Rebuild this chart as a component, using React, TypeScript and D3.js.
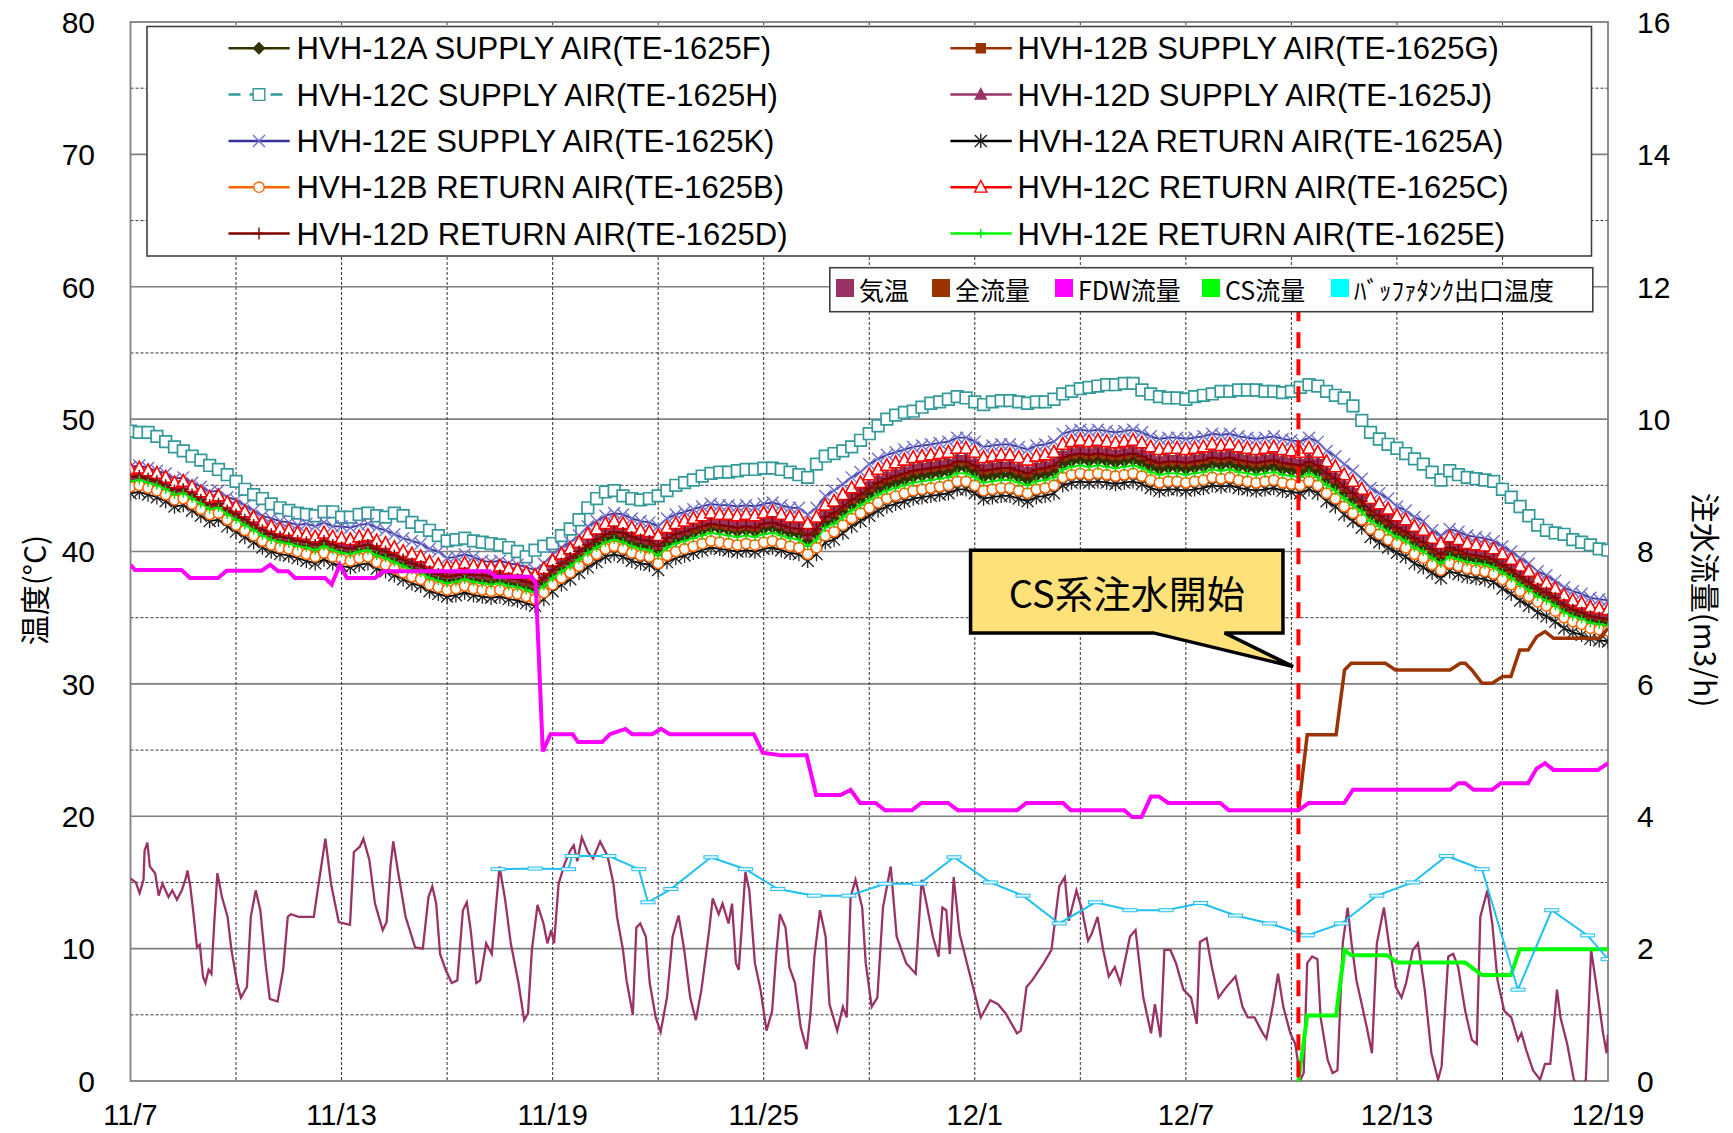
import * as d3 from "d3";

// x = days since 11/7; HVH temperatures sampled every 6 h
const sampleStep = 0.25;

const dateTickDays = [0, 6, 12, 18, 24, 30, 36, 42];
const dateTickLabels = ["11/7", "11/13", "11/19", "11/25", "12/1", "12/7", "12/13", "12/19"];
const tempTicks = [0, 10, 20, 30, 40, 50, 60, 70, 80];
const flowTicks = [0, 2, 4, 6, 8, 10, 12, 14, 16];

const hvh12aSupply = [
  45.5, 45.6, 45.4, 45.2, 44.9, 44.5, 44.6, 44.2, 43.8, 43.4, 43.5, 43.0, 42.6, 42.2, 41.8, 41.4,
  41.1, 40.9, 40.8, 40.6, 40.5, 40.3, 40.6, 40.3, 40.2, 40.1, 40.3, 40.4, 40.0, 39.8, 39.5, 39.2,
  38.9, 38.7, 38.3, 38.1, 37.9, 38.0, 38.2, 38.0, 37.9, 37.8, 37.9, 37.7, 37.6, 37.4, 37.2, 37.7,
  38.3, 38.8, 39.2, 39.7, 40.2, 40.6, 41.0, 41.2, 41.0, 40.7, 40.5, 40.4, 40.0, 40.6, 40.9, 41.1,
  41.4, 41.6, 41.8, 41.7, 41.6, 41.5, 41.6, 41.5, 41.7, 41.8, 41.6, 41.4, 41.3, 40.8, 41.3, 42.2,
  42.5, 43.0, 43.5, 43.9, 44.3, 44.7, 45.0, 45.2, 45.4, 45.6, 45.7, 45.8, 45.9, 46.0, 46.3, 46.3,
  46.0, 45.6, 45.7, 45.8, 45.8, 45.6, 45.4, 45.7, 45.8, 46.0, 46.6, 46.8, 46.9, 46.8, 46.9, 46.8,
  46.7, 46.8, 46.9, 46.7, 46.4, 46.2, 46.3, 46.3, 46.2, 46.3, 46.4, 46.6, 46.5, 46.6, 46.4, 46.3,
  46.2, 46.3, 46.4, 46.2, 46.1, 46.0, 46.3, 46.0, 45.4, 45.0, 44.4, 43.9, 43.4, 42.7, 42.3, 41.9,
  41.5, 41.2, 40.7, 40.4, 39.8, 39.4, 39.9, 39.7, 39.5, 39.4, 39.3, 39.1, 38.7, 38.3, 37.8, 37.4,
  36.9, 36.6, 36.2, 35.7, 35.4, 35.2, 34.9, 34.8, 34.7,
];
const hvh12bSupply = [
  45.9, 46.0, 45.8, 45.6, 45.3, 44.9, 45.0, 44.6, 44.2, 43.8, 43.9, 43.4, 43.0, 42.6, 42.2, 41.8,
  41.5, 41.3, 41.2, 41.0, 40.9, 40.7, 41.0, 40.7, 40.5, 40.4, 40.6, 40.7, 40.4, 40.2, 39.9, 39.6,
  39.3, 39.1, 38.7, 38.5, 38.3, 38.4, 38.6, 38.4, 38.3, 38.2, 38.3, 38.1, 38.0, 37.8, 37.6, 38.1,
  38.7, 39.2, 39.6, 40.1, 40.7, 41.1, 41.5, 41.7, 41.5, 41.2, 41.0, 40.9, 40.5, 41.1, 41.4, 41.6,
  41.8, 42.0, 42.2, 42.1, 42.0, 41.9, 42.0, 41.9, 42.2, 42.3, 42.1, 41.9, 41.8, 41.3, 41.8, 42.7,
  43.0, 43.5, 44.0, 44.4, 44.9, 45.3, 45.6, 45.8, 46.0, 46.2, 46.3, 46.4, 46.5, 46.6, 46.9, 46.9,
  46.6, 46.2, 46.3, 46.4, 46.4, 46.2, 46.0, 46.3, 46.4, 46.6, 47.2, 47.4, 47.5, 47.4, 47.5, 47.4,
  47.3, 47.4, 47.5, 47.3, 47.0, 46.8, 46.9, 46.9, 46.8, 46.9, 47.0, 47.2, 47.1, 47.2, 47.0, 46.9,
  46.8, 46.9, 47.0, 46.8, 46.7, 46.6, 46.9, 46.6, 45.9, 45.5, 44.9, 44.4, 43.9, 43.2, 42.8, 42.4,
  41.9, 41.6, 41.1, 40.8, 40.3, 39.9, 40.4, 40.2, 40.0, 39.9, 39.8, 39.6, 39.1, 38.7, 38.2, 37.8,
  37.3, 37.0, 36.6, 36.1, 35.8, 35.6, 35.3, 35.2, 35.1,
];
const hvh12cSupply = [
  49.1, 49.0, 49.0, 48.7, 48.3, 47.9, 47.6, 47.2, 46.9, 46.5, 46.2, 45.8, 45.3, 44.7, 44.3, 44.0,
  43.6, 43.3, 43.1, 42.9, 42.8, 42.7, 43.0, 43.0, 42.6, 42.6, 42.8, 42.9, 42.7, 42.6, 42.9, 42.7,
  42.2, 41.9, 41.6, 41.2, 40.8, 40.9, 41.0, 40.8, 40.7, 40.6, 40.5, 40.3, 40.0, 39.6, 40.1, 40.4,
  40.6, 41.2, 41.7, 42.4, 43.3, 44.0, 44.5, 44.6, 44.2, 44.0, 43.9, 44.0, 44.2, 44.6, 45.0, 45.2,
  45.4, 45.7, 45.9, 46.0, 46.0, 46.1, 46.2, 46.2, 46.3, 46.3, 46.2, 46.0, 45.8, 45.6, 46.6, 47.2,
  47.4, 47.6, 47.9, 48.4, 48.9, 49.5, 50.0, 50.3, 50.5, 50.6, 50.9, 51.2, 51.3, 51.5, 51.7, 51.6,
  51.3, 51.1, 51.3, 51.4, 51.4, 51.3, 51.2, 51.3, 51.3, 51.5, 51.9, 52.1, 52.3, 52.4, 52.5, 52.6,
  52.6, 52.7, 52.7, 52.2, 51.9, 51.7, 51.6, 51.6, 51.5, 51.7, 51.8, 51.9, 52.1, 52.1, 52.2, 52.2,
  52.2, 52.1, 52.1, 52.0, 52.1, 52.4, 52.6, 52.5, 52.1, 51.8, 51.6, 51.0, 49.9, 49.0, 48.5, 48.1,
  47.8, 47.4, 47.0, 46.6, 46.0, 45.4, 46.1, 45.8, 45.6, 45.5, 45.4, 45.3, 44.7, 44.1, 43.4, 42.7,
  42.0, 41.6, 41.4, 41.3, 40.9, 40.7, 40.5, 40.2, 40.1,
];
const hvh12dSupply = [
  45.8, 45.9, 45.7, 45.5, 45.2, 44.8, 44.9, 44.5, 44.1, 43.7, 43.8, 43.3, 43.0, 42.6, 42.2, 41.8,
  41.5, 41.3, 41.2, 41.0, 40.9, 40.7, 41.0, 40.7, 40.5, 40.4, 40.6, 40.7, 40.4, 40.2, 39.9, 39.6,
  39.3, 39.1, 38.7, 38.5, 38.3, 38.4, 38.6, 38.4, 38.4, 38.3, 38.4, 38.2, 38.1, 37.9, 37.7, 38.2,
  38.8, 39.3, 39.7, 40.2, 40.8, 41.2, 41.6, 41.8, 41.6, 41.3, 41.1, 41.0, 40.6, 41.2, 41.5, 41.7,
  42.0, 42.2, 42.4, 42.3, 42.2, 42.1, 42.2, 42.1, 42.3, 42.4, 42.2, 42.0, 41.9, 41.4, 41.9, 42.8,
  43.2, 43.7, 44.2, 44.6, 45.1, 45.5, 45.8, 46.0, 46.2, 46.4, 46.5, 46.6, 46.7, 46.8, 47.1, 47.1,
  46.8, 46.4, 46.5, 46.6, 46.6, 46.4, 46.2, 46.5, 46.6, 46.8, 47.4, 47.6, 47.7, 47.6, 47.7, 47.6,
  47.5, 47.6, 47.7, 47.5, 47.2, 47.0, 47.1, 47.1, 47.0, 47.1, 47.2, 47.4, 47.3, 47.4, 47.2, 47.1,
  47.0, 47.1, 47.2, 47.0, 46.9, 46.8, 47.1, 46.8, 46.1, 45.7, 45.1, 44.6, 44.1, 43.4, 43.0, 42.6,
  42.1, 41.8, 41.3, 41.0, 40.5, 40.1, 40.6, 40.4, 40.1, 40.0, 39.9, 39.7, 39.3, 38.9, 38.4, 38.0,
  37.5, 37.2, 36.8, 36.3, 35.9, 35.7, 35.4, 35.3, 35.2,
];
const hvh12eSupply = [
  46.4, 46.5, 46.3, 46.1, 45.9, 45.5, 45.6, 45.2, 44.9, 44.5, 44.6, 44.1, 43.9, 43.5, 43.1, 42.7,
  42.5, 42.3, 42.2, 42.0, 42.1, 41.9, 42.2, 41.9, 41.9, 41.8, 42.0, 42.1, 41.8, 41.6, 41.3, 41.0,
  40.8, 40.6, 40.2, 40.0, 39.5, 39.6, 39.8, 39.6, 39.3, 39.2, 39.3, 39.1, 39.0, 38.8, 38.6, 39.1,
  39.8, 40.3, 40.7, 41.2, 41.9, 42.3, 42.7, 42.9, 42.8, 42.5, 42.3, 42.2, 41.9, 42.5, 42.8, 43.0,
  43.2, 43.4, 43.6, 43.5, 43.5, 43.4, 43.5, 43.4, 43.6, 43.7, 43.5, 43.3, 43.3, 42.8, 43.3, 44.2,
  44.6, 45.1, 45.6, 46.0, 46.6, 47.0, 47.3, 47.5, 47.7, 47.9, 48.0, 48.1, 48.2, 48.3, 48.6, 48.6,
  48.3, 47.9, 48.0, 48.1, 48.1, 47.9, 47.7, 48.0, 48.1, 48.3, 48.9, 49.1, 49.2, 49.1, 49.2, 49.1,
  49.0, 49.1, 49.2, 49.0, 48.7, 48.5, 48.6, 48.6, 48.5, 48.6, 48.7, 48.9, 48.8, 48.9, 48.7, 48.6,
  48.5, 48.6, 48.7, 48.5, 48.4, 48.3, 48.6, 48.3, 47.6, 47.2, 46.6, 46.1, 45.5, 44.8, 44.4, 44.0,
  43.4, 43.1, 42.6, 42.3, 41.6, 41.2, 41.7, 41.5, 41.2, 41.1, 41.0, 40.8, 40.4, 40.0, 39.5, 39.1,
  38.5, 38.2, 37.8, 37.3, 37.0, 36.8, 36.5, 36.4, 36.3,
];
const hvh12aReturn = [
  44.4, 44.5, 44.3, 44.1, 43.8, 43.4, 43.5, 43.1, 42.7, 42.3, 42.4, 41.9, 41.5, 41.1, 40.7, 40.3,
  40.0, 39.8, 39.7, 39.5, 39.3, 39.1, 39.4, 39.1, 38.9, 38.8, 39.0, 39.1, 38.7, 38.5, 38.2, 37.9,
  37.6, 37.4, 37.0, 36.8, 36.6, 36.7, 36.9, 36.7, 36.6, 36.5, 36.6, 36.4, 36.3, 36.1, 35.9, 36.4,
  37.0, 37.5, 37.9, 38.4, 38.8, 39.2, 39.6, 39.8, 39.6, 39.3, 39.1, 39.0, 38.6, 39.2, 39.5, 39.7,
  39.9, 40.1, 40.3, 40.2, 40.1, 40.0, 40.1, 40.0, 40.2, 40.3, 40.1, 39.9, 39.8, 39.3, 39.8, 40.7,
  40.9, 41.4, 41.9, 42.3, 42.7, 43.1, 43.4, 43.6, 43.8, 44.0, 44.1, 44.2, 44.3, 44.4, 44.7, 44.7,
  44.4, 44.0, 44.1, 44.2, 44.2, 44.0, 43.8, 44.1, 44.2, 44.4, 45.0, 45.2, 45.3, 45.2, 45.3, 45.2,
  45.1, 45.2, 45.3, 45.1, 44.8, 44.6, 44.7, 44.7, 44.6, 44.7, 44.8, 45.0, 44.9, 45.0, 44.8, 44.7,
  44.6, 44.7, 44.8, 44.6, 44.5, 44.4, 44.7, 44.4, 43.8, 43.4, 42.8, 42.3, 41.8, 41.1, 40.7, 40.3,
  39.9, 39.6, 39.1, 38.8, 38.4, 38.0, 38.5, 38.3, 38.1, 38.0, 37.9, 37.7, 37.2, 36.8, 36.3, 35.9,
  35.4, 35.1, 34.7, 34.2, 33.9, 33.7, 33.4, 33.3, 33.2,
];
const hvh12bReturn = [
  44.9, 45.0, 44.8, 44.6, 44.3, 43.9, 44.0, 43.6, 43.2, 42.8, 42.9, 42.4, 42.0, 41.6, 41.2, 40.8,
  40.5, 40.3, 40.2, 40.0, 39.8, 39.6, 39.9, 39.6, 39.4, 39.3, 39.5, 39.6, 39.2, 39.0, 38.7, 38.4,
  38.1, 37.9, 37.5, 37.3, 37.1, 37.2, 37.4, 37.2, 37.1, 37.0, 37.1, 36.9, 36.8, 36.6, 36.4, 36.9,
  37.5, 38.0, 38.4, 38.9, 39.4, 39.8, 40.2, 40.4, 40.2, 39.9, 39.7, 39.6, 39.1, 39.7, 40.0, 40.2,
  40.4, 40.6, 40.8, 40.7, 40.6, 40.5, 40.6, 40.5, 40.7, 40.8, 40.6, 40.4, 40.3, 39.8, 40.3, 41.2,
  41.5, 42.0, 42.5, 42.9, 43.3, 43.7, 44.0, 44.2, 44.4, 44.6, 44.7, 44.8, 44.9, 45.0, 45.3, 45.3,
  45.0, 44.6, 44.7, 44.8, 44.8, 44.6, 44.4, 44.7, 44.8, 45.0, 45.6, 45.8, 45.9, 45.8, 45.9, 45.8,
  45.7, 45.8, 45.9, 45.7, 45.4, 45.2, 45.3, 45.3, 45.2, 45.3, 45.4, 45.6, 45.5, 45.6, 45.4, 45.3,
  45.2, 45.3, 45.4, 45.2, 45.1, 45.0, 45.3, 45.0, 44.4, 44.0, 43.4, 42.9, 42.4, 41.7, 41.3, 40.9,
  40.6, 40.3, 39.8, 39.5, 39.0, 38.6, 39.1, 38.9, 38.7, 38.6, 38.5, 38.3, 37.9, 37.5, 37.0, 36.6,
  36.2, 35.9, 35.5, 35.0, 34.7, 34.5, 34.2, 34.1, 34.0,
];
const hvh12cReturn = [
  46.2, 46.3, 46.1, 45.9, 45.6, 45.2, 45.3, 44.9, 44.5, 44.1, 44.2, 43.7, 43.4, 43.0, 42.6, 42.2,
  41.9, 41.7, 41.6, 41.4, 41.3, 41.1, 41.4, 41.1, 41.0, 40.9, 41.1, 41.2, 40.8, 40.6, 40.3, 40.0,
  39.8, 39.6, 39.2, 39.0, 38.8, 38.9, 39.1, 38.9, 38.9, 38.8, 38.9, 38.7, 38.6, 38.4, 38.2, 38.7,
  39.3, 39.8, 40.2, 40.7, 41.3, 41.7, 42.1, 42.3, 42.1, 41.8, 41.6, 41.5, 41.2, 41.8, 42.1, 42.3,
  42.5, 42.7, 42.9, 42.8, 42.8, 42.7, 42.8, 42.7, 42.9, 43.0, 42.8, 42.6, 42.6, 42.1, 42.6, 43.5,
  43.8, 44.3, 44.8, 45.2, 45.8, 46.2, 46.5, 46.7, 46.9, 47.1, 47.2, 47.3, 47.4, 47.5, 47.8, 47.8,
  47.5, 47.1, 47.2, 47.3, 47.3, 47.1, 46.9, 47.2, 47.3, 47.5, 48.1, 48.3, 48.4, 48.3, 48.4, 48.3,
  48.2, 48.3, 48.4, 48.2, 47.9, 47.7, 47.8, 47.8, 47.7, 47.8, 47.9, 48.1, 48.0, 48.1, 47.9, 47.8,
  47.7, 47.8, 47.9, 47.7, 47.6, 47.5, 47.8, 47.5, 46.8, 46.4, 45.8, 45.3, 44.7, 44.0, 43.6, 43.2,
  42.7, 42.4, 41.9, 41.6, 41.0, 40.6, 41.1, 40.9, 40.6, 40.5, 40.4, 40.2, 39.8, 39.4, 38.9, 38.5,
  37.9, 37.6, 37.2, 36.7, 36.3, 36.1, 35.8, 35.7, 35.6,
];
const hvh12dReturn = [
  45.6, 45.7, 45.5, 45.3, 45.0, 44.6, 44.7, 44.3, 43.9, 43.5, 43.6, 43.1, 42.8, 42.4, 42.0, 41.6,
  41.3, 41.1, 41.0, 40.8, 40.7, 40.5, 40.8, 40.5, 40.3, 40.2, 40.4, 40.5, 40.2, 40.0, 39.7, 39.4,
  39.1, 38.9, 38.5, 38.3, 38.1, 38.2, 38.4, 38.2, 38.2, 38.1, 38.2, 38.0, 37.9, 37.7, 37.5, 38.0,
  38.6, 39.1, 39.5, 40.0, 40.5, 40.9, 41.3, 41.5, 41.4, 41.1, 40.9, 40.8, 40.4, 41.0, 41.3, 41.5,
  41.7, 41.9, 42.1, 42.0, 41.9, 41.8, 41.9, 41.8, 42.1, 42.2, 42.0, 41.8, 41.7, 41.2, 41.7, 42.6,
  42.9, 43.4, 43.9, 44.3, 44.8, 45.2, 45.5, 45.7, 45.9, 46.1, 46.2, 46.3, 46.4, 46.5, 46.8, 46.8,
  46.5, 46.1, 46.2, 46.3, 46.3, 46.1, 45.9, 46.2, 46.3, 46.5, 47.1, 47.3, 47.4, 47.3, 47.4, 47.3,
  47.2, 47.3, 47.4, 47.2, 46.9, 46.7, 46.8, 46.8, 46.7, 46.8, 46.9, 47.1, 47.0, 47.1, 46.9, 46.8,
  46.7, 46.8, 46.9, 46.7, 46.6, 46.5, 46.8, 46.5, 45.9, 45.5, 44.9, 44.4, 43.8, 43.1, 42.7, 42.3,
  41.8, 41.5, 41.0, 40.7, 40.2, 39.8, 40.3, 40.1, 39.8, 39.7, 39.6, 39.4, 39.0, 38.6, 38.1, 37.7,
  37.2, 36.9, 36.5, 36.0, 35.6, 35.4, 35.1, 35.0, 34.9,
];
const hvh12eReturn = [
  45.3, 45.4, 45.2, 45.0, 44.7, 44.3, 44.4, 44.0, 43.6, 43.2, 43.3, 42.8, 42.4, 42.0, 41.6, 41.2,
  40.9, 40.7, 40.6, 40.4, 40.3, 40.1, 40.4, 40.1, 39.9, 39.8, 40.0, 40.1, 39.7, 39.5, 39.2, 38.9,
  38.6, 38.4, 38.0, 37.8, 37.6, 37.7, 37.9, 37.7, 37.6, 37.5, 37.6, 37.4, 37.3, 37.1, 36.9, 37.4,
  38.0, 38.5, 38.9, 39.4, 39.9, 40.3, 40.7, 40.9, 40.7, 40.4, 40.2, 40.1, 39.7, 40.3, 40.6, 40.8,
  41.0, 41.2, 41.4, 41.3, 41.2, 41.1, 41.2, 41.1, 41.3, 41.4, 41.2, 41.0, 40.9, 40.4, 40.9, 41.8,
  42.1, 42.6, 43.1, 43.5, 43.9, 44.3, 44.6, 44.8, 45.0, 45.2, 45.3, 45.4, 45.5, 45.6, 45.9, 45.9,
  45.6, 45.2, 45.3, 45.4, 45.4, 45.2, 45.0, 45.3, 45.4, 45.6, 46.2, 46.4, 46.5, 46.4, 46.5, 46.4,
  46.3, 46.4, 46.5, 46.3, 46.0, 45.8, 45.9, 45.9, 45.8, 45.9, 46.0, 46.2, 46.1, 46.2, 46.0, 45.9,
  45.8, 45.9, 46.0, 45.8, 45.7, 45.6, 45.9, 45.6, 45.0, 44.6, 44.0, 43.5, 43.0, 42.3, 41.9, 41.5,
  41.1, 40.8, 40.3, 40.0, 39.5, 39.1, 39.6, 39.4, 39.2, 39.1, 39.0, 38.8, 38.4, 38.0, 37.5, 37.1,
  36.6, 36.3, 35.9, 35.4, 35.1, 34.9, 34.6, 34.5, 34.4,
];

// 気温 (°C)
const airDays = [
  0, 0.15, 0.26, 0.37, 0.4, 0.48, 0.55, 0.7, 0.8, 0.91, 1.08, 1.19, 1.32, 1.46, 1.57, 1.62, 1.7, 1.78,
  1.89, 1.97, 2.06, 2.13, 2.22, 2.3, 2.38, 2.47, 2.6, 2.76, 2.87, 3.03, 3.14, 3.31, 3.42, 3.56, 3.69,
  3.85, 3.96, 4.18, 4.34, 4.47, 4.56, 4.78, 5.21, 5.32, 5.54, 5.7, 5.92, 6.24, 6.35, 6.52, 6.62, 6.79,
  6.95, 7.06, 7.17, 7.28, 7.39, 7.47, 7.6, 7.82, 8.09, 8.31, 8.47, 8.58, 8.69, 8.8, 8.96, 9.13, 9.29,
  9.45, 9.56, 9.67, 9.83, 9.94, 10.11, 10.27, 10.49, 10.65, 10.81, 11.03, 11.19, 11.3, 11.41, 11.57,
  11.74, 11.85, 11.96, 12.04, 12.17, 12.34, 12.5, 12.6, 12.7, 12.83, 13.0, 13.15, 13.35, 13.56, 13.73,
  13.83, 14.0, 14.1, 14.28, 14.38, 14.49, 14.65, 14.76, 14.93, 15.07, 15.25, 15.41, 15.58, 15.74,
  15.91, 16.07, 16.23, 16.45, 16.55, 16.72, 16.83, 17.0, 17.1, 17.21, 17.29, 17.37, 17.48, 17.59,
  17.75, 17.91, 18.08, 18.24, 18.35, 18.46, 18.62, 18.73, 18.89, 19.05, 19.22, 19.33, 19.44, 19.6,
  19.76, 19.87, 20.09, 20.25, 20.36, 20.47, 20.61, 20.8, 20.9, 21.07, 21.23, 21.39, 21.61, 21.78,
  22.05, 22.32, 22.49, 22.65, 22.81, 22.97, 23.08, 23.19, 23.29, 23.4, 23.57, 23.73, 23.95, 24.17,
  24.44, 24.66, 24.88, 25.2, 25.31, 25.47, 25.63, 25.96, 26.18, 26.4, 26.56, 26.67, 26.89, 27.05,
  27.22, 27.32, 27.49, 27.65, 27.81, 27.98, 28.14, 28.41, 28.57, 28.79, 29.01, 29.12, 29.28, 29.39,
  29.56, 29.72, 29.93, 30.15, 30.31, 30.4, 30.59, 30.74, 30.93, 31.12, 31.41, 31.61, 31.76, 31.95,
  32.19, 32.29, 32.48, 32.62, 32.77, 32.97, 33.11, 33.26, 33.35, 33.45, 33.59, 33.74, 33.83, 34.03,
  34.17, 34.31, 34.46, 34.6, 34.71, 34.85, 35.0, 35.14, 35.29, 35.43, 35.63, 35.77, 35.97, 36.13,
  36.26, 36.45, 36.6, 36.79, 36.98, 37.17, 37.27, 37.46, 37.6, 37.74, 37.94, 38.13, 38.27, 38.37,
  38.57, 38.71, 38.86, 39.05, 39.25, 39.44, 39.54, 39.68, 39.87, 40.07, 40.21, 40.36, 40.55, 40.65,
  40.84, 41.03, 41.2, 41.37, 41.52, 41.66, 41.86, 41.96, 42.0,
];
const airTemps = [
  15.3, 15.0, 14.2, 15.2, 17.4, 18.0, 16.2, 15.7, 14.0, 14.9, 13.9, 14.4, 13.7, 14.4, 15.3, 15.9, 14.7, 12.9,
  10.1, 10.3, 7.9, 7.4, 8.4, 8.1, 11.9, 15.7, 13.9, 12.4, 9.9, 7.4, 6.3, 7.1, 12.4, 14.4, 12.9,
  8.6, 6.2, 6.0, 8.4, 12.4, 12.6, 12.4, 12.4, 14.4, 18.3, 14.9, 12.0, 11.8, 17.3, 17.7, 18.3, 16.7,
  13.4, 12.4, 11.4, 12.0, 16.2, 18.1, 15.9, 12.4, 10.1, 10.0, 13.9, 14.7, 13.4, 9.6, 8.4, 7.4, 7.6,
  12.9, 13.5, 11.4, 7.4, 7.6, 10.4, 9.6, 16.2, 13.7, 10.4, 7.4, 4.6, 5.1, 9.9, 13.3,
  11.9, 10.4, 11.4, 10.4, 14.9, 16.4, 17.4, 17.8, 16.6, 18.4, 17.3, 16.8, 18.1, 17.0, 14.9,
  12.4, 9.9, 7.6, 5.0, 11.6, 11.9, 10.9, 7.4, 4.8, 3.7, 6.3, 10.9, 12.5, 9.9,
  6.3, 4.6, 6.9, 11.4, 13.8, 12.6, 13.4, 11.9, 13.4, 8.9, 8.4, 11.4, 15.8, 14.4,
  8.9, 6.9, 3.8, 5.3, 9.4, 12.6, 11.6, 8.6, 7.4, 4.1, 2.4, 5.1, 9.4, 12.9,
  10.9, 5.8, 3.8, 5.6, 4.8, 13.9, 15.2, 13.1, 8.9, 5.6, 6.3, 13.1, 16.2, 10.9,
  8.9, 8.1, 15.2, 13.1, 10.9, 9.4, 13.1, 12.9, 9.6, 15.4, 11.1, 9.4, 7.1, 4.8,
  6.1, 5.8, 5.1, 3.6, 3.8, 7.1, 7.6, 8.9, 9.9, 14.7, 15.4, 12.1, 14.4, 12.9,
  10.6, 11.1, 12.4, 9.9, 7.9, 8.6, 7.4, 10.9, 11.4, 6.3, 3.6, 5.8, 3.3, 9.9,
  9.9, 8.9, 6.9, 6.3, 4.3, 10.5, 10.8, 8.6, 6.3, 7.0, 7.9, 5.6, 4.8, 4.8,
  3.6, 3.2, 5.8, 8.1, 5.6, 3.6, 2.8, 0.1, 0.6, 8.9, 9.4, 9.2, 4.8, 1.6,
  0.6, 0.8, 10.4, 13.1, 10.4, 7.6, 5.8, 4.1, 2.1, 10.4, 13.1, 10.4, 7.1, 6.3,
  7.4, 9.9, 10.4, 6.9, 2.1, 0.1, 1.1, 9.4, 9.6, 8.6, 5.3, 3.1, 2.8, 12.4,
  14.4, 11.9, 7.6, 5.3, 4.8, 3.1, 3.6, 2.3, 0.8, 0.1, 1.3, 1.3, 6.9, 4.8,
  2.8, 0.1, -0.5, 0.1, 9.9, 7.4, 3.6, 2.1, 3.5,
];

// 全流量 (m3/h)
const totalDays = [33.2, 33.45, 34.27, 34.51, 34.7, 35.67, 35.96, 37.51, 37.8, 37.94, 38.13, 38.42, 38.71, 39.0, 39.24, 39.49, 39.73, 39.97, 40.21, 40.45, 41.76, 42.0];
const totalFlow = [4.09, 5.23, 5.23, 6.21, 6.31, 6.31, 6.21, 6.21, 6.31, 6.31, 6.21, 6.01, 6.01, 6.11, 6.11, 6.51, 6.51, 6.71, 6.79, 6.69, 6.69, 6.84];

// FDW流量 (m3/h)
const fdwDays = [
  0, 0.13, 1.45, 1.69, 2.49, 2.73, 3.73, 3.97, 4.2, 4.48, 4.68, 5.53, 5.72, 5.95, 6.15, 6.95, 7.18, 10.21,
  10.38, 11.41, 11.52, 11.72, 11.94, 12.57, 12.72, 13.41, 13.63, 14.07, 14.26, 14.83, 15.08, 15.33, 17.72,
  17.97, 18.5, 19.22, 19.49, 20.19, 20.47, 20.74, 21.18, 21.45, 22.21, 22.48, 23.24, 23.52, 25.2, 25.47,
  26.51, 26.73, 28.25, 28.47, 28.74, 29.01, 29.23, 29.5, 30.98, 31.22, 33.2, 33.49, 34.5, 34.75, 37.51,
  37.75, 37.94, 38.18, 38.71, 38.95, 39.73, 39.97, 40.21, 40.45, 41.71, 42.0,
];
const fdwFlow = [
  7.8, 7.72, 7.72, 7.6, 7.6, 7.71, 7.71, 7.8, 7.7, 7.7, 7.6, 7.6, 7.5, 7.8, 7.6, 7.6, 7.7, 7.7,
  7.62, 7.62, 7.52, 4.98, 5.24, 5.24, 5.12, 5.12, 5.24, 5.32, 5.24, 5.24, 5.32, 5.24, 5.24,
  4.96, 4.92, 4.92, 4.32, 4.32, 4.4, 4.2, 4.2, 4.09, 4.09, 4.2, 4.2, 4.09, 4.09, 4.2,
  4.2, 4.09, 4.09, 3.99, 3.99, 4.3, 4.3, 4.2, 4.2, 4.09, 4.09, 4.2, 4.2, 4.4, 4.4,
  4.5, 4.5, 4.4, 4.4, 4.5, 4.5, 4.72, 4.8, 4.7, 4.7, 4.8,
];

// CS流量 (m3/h)
const csDays = [33.2, 33.45, 34.27, 34.51, 34.7, 35.72, 36.01, 37.94, 38.42, 39.24, 39.49, 42.0];
const csFlow = [0, 0.99, 0.99, 1.98, 1.9, 1.9, 1.79, 1.79, 1.6, 1.6, 1.99, 1.99];

// ﾊﾞｯﾌｧﾀﾝｸ出口温度 (°C)
const bufferDays = [10.45, 11.5, 12.45, 12.55, 13.6, 14.45, 14.71, 15.36, 16.5, 17.48, 18.4, 19.44, 20.42, 21.45, 22.43, 23.41, 24.44, 25.37, 26.4, 27.43, 28.41, 29.44, 30.42, 31.41, 32.38, 33.45, 34.42, 35.43, 36.45, 37.41, 38.42, 39.44, 40.4, 41.42, 42.0];
const bufferTemps = [16.0, 16.05, 16.0, 17.0, 17.0, 16.0, 13.5, 14.5, 16.9, 16.0, 14.5, 14.0, 14.0, 14.9, 14.9, 16.9, 15.0, 14.0, 11.9, 13.5, 12.9, 12.9, 13.45, 12.5, 11.9, 11.0, 11.9, 14.0, 15.0, 17.0, 16.0, 6.9, 12.9, 11.0, 9.2];

const csStartDay = 33.2;

const latin = "'Liberation Sans', Arial, sans-serif";
const jp = "'Noto Sans CJK JP', 'Noto Sans CJK SC', sans-serif";

type Marker = "diamond" | "square" | "triangle" | "x" | "star" | "plus" | "circle";

function markerPath(kind: Marker, r: number) {
  switch (kind) {
    case "diamond":
      return `M0,${-r}L${r},0L0,${r}L${-r},0Z`;
    case "square":
      return `M${-r},${-r}H${r}V${r}H${-r}Z`;
    case "triangle":
      return `M0,${-r * 1.1}L${r},${r * 0.8}L${-r},${r * 0.8}Z`;
    case "x":
      return `M${-r},${-r}L${r},${r}M${r},${-r}L${-r},${r}`;
    case "star":
      return `M${-r},${-r}L${r},${r}M${r},${-r}L${-r},${r}M0,${-r * 1.2}V${r * 1.2}`;
    case "plus":
      return `M${-r},0H${r}M0,${-r}V${r}`;
    case "circle":
      return `M${r},0A${r},${r} 0 1,1 ${-r},0A${r},${r} 0 1,1 ${r},0Z`;
  }
}

const tempSeries = [
  { label: "HVH-12A SUPPLY AIR(TE-1625F)", values: hvh12aSupply, line: "#333300", mark: "#333300", fill: "#333300", marker: "diamond" as Marker, r: 5.5, sw: 1.2 },
  { label: "HVH-12B SUPPLY AIR(TE-1625G)", values: hvh12bSupply, line: "#993300", mark: "#993300", fill: "#993300", marker: "square" as Marker, r: 4.5, sw: 1.2 },
  { label: "HVH-12C SUPPLY AIR(TE-1625H)", values: hvh12cSupply, line: "#339999", mark: "#339999", fill: "#ffffff", marker: "square" as Marker, r: 5.8, sw: 1.7, dash: "9,6" },
  { label: "HVH-12D SUPPLY AIR(TE-1625J)", values: hvh12dSupply, line: "#993366", mark: "#993366", fill: "#993366", marker: "triangle" as Marker, r: 5.5, sw: 1.2 },
  { label: "HVH-12E SUPPLY AIR(TE-1625K)", values: hvh12eSupply, line: "#333399", mark: "#6f6fcc", fill: "none", marker: "x" as Marker, r: 6, sw: 1.4 },
  { label: "HVH-12A RETURN AIR(TE-1625A)", values: hvh12aReturn, line: "#000000", mark: "#222222", fill: "none", marker: "star" as Marker, r: 6, sw: 1.3 },
  { label: "HVH-12B RETURN AIR(TE-1625B)", values: hvh12bReturn, line: "#FF6600", mark: "#FF6600", fill: "#ffffff", marker: "circle" as Marker, r: 5.2, sw: 1.6 },
  { label: "HVH-12C RETURN AIR(TE-1625C)", values: hvh12cReturn, line: "#FF0000", mark: "#FF0000", fill: "#ffffff", marker: "triangle" as Marker, r: 6.2, sw: 1.6 },
  { label: "HVH-12D RETURN AIR(TE-1625D)", values: hvh12dReturn, line: "#800000", mark: "#800000", fill: "none", marker: "plus" as Marker, r: 6, sw: 1.5 },
  { label: "HVH-12E RETURN AIR(TE-1625E)", values: hvh12eReturn, line: "#00FF00", mark: "#00DD00", fill: "none", marker: "plus" as Marker, r: 4.5, sw: 1.4 },
];

const flowLegend = [
  { label: "気温", color: "#993366" },
  { label: "全流量", color: "#993300" },
  { label: "FDW流量", color: "#FF00FF" },
  { label: "CS流量", color: "#00FF00" },
  { label: "ﾊﾞｯﾌｧﾀﾝｸ出口温度", color: "#00FFFF" },
];

export default function App() {
  const width = 1733;
  const height = 1133;
  const left = 130.5;
  const right = 1608;
  const top = 22;
  const bottom = 1081;

  const x = d3.scaleLinear().domain([0, 42]).range([left, right]);
  const yT = d3.scaleLinear().domain([0, 80]).range([bottom, top]);
  const yF = d3.scaleLinear().domain([0, 16]).range([bottom, top]);

  const sampleLine = d3
    .line<number>()
    .x((_, i) => x(i * sampleStep))
    .y((d) => yT(d));
  const pairLine = (days: number[], vals: number[], y: d3.ScaleLinear<number, number>) =>
    d3
      .line<number>()
      .x((d) => x(d))
      .y((_, i) => y(vals[i]))(days) as string;

  const hGrid = d3.range(5, 80, 5);
  const vGrid = d3.range(3, 42, 3);

  const legendRowY = (i: number) => 48.3 + i * 46.3;
  const legendCols = [
    { lineX0: 228.5, lineX1: 289.7, markX: 259, textX: 296.6 },
    { lineX0: 950.4, lineX1: 1011.8, markX: 980.8, textX: 1017.6 },
  ];
  const flowLegendX = [836, 932, 1055, 1202, 1331];

  // callout pointing at CS injection start
  const bx0 = x(23.88);
  const bx1 = x(32.76);
  const by0 = yT(40.1);
  const by1 = yT(33.85);
  const callout = `M${bx0},${by0}H${bx1}V${by1}H${x(31.1)}L${x(33.05)},${yT(31.3)}L${x(29.08)},${by1}H${bx0}Z`;

  return (
    <svg
      width={width}
      height={height}
      style={{ position: "absolute", left: 0, top: 0, background: "#fff" }}
    >
      <defs>
        <clipPath id="plot">
          <rect x={left} y={top} width={right - left} height={bottom - top} />
        </clipPath>
      </defs>
      <rect x={0} y={0} width={width} height={height} fill="#fff" />

      {/* grid */}
      <g>
        {hGrid.map((v) =>
          v % 10 === 0 ? (
            <line key={v} x1={left} x2={right} y1={yT(v)} y2={yT(v)} stroke="#808080" strokeWidth={1.6} />
          ) : (
            <line key={v} x1={left} x2={right} y1={yT(v)} y2={yT(v)} stroke="#333" strokeWidth={1} strokeDasharray="3,2" />
          )
        )}
        {vGrid.map((d) => (
          <line key={d} x1={x(d)} x2={x(d)} y1={top} y2={bottom} stroke="#333" strokeWidth={1} strokeDasharray="3,2" />
        ))}
        <rect x={left} y={top} width={right - left} height={bottom - top} fill="none" stroke="#808080" strokeWidth={1.8} />
      </g>

      {/* HVH temperatures */}
      <g clipPath="url(#plot)">
        {tempSeries.map((s) => (
          <g key={s.label}>
            <path d={sampleLine(s.values) as string} fill="none" stroke={s.line} strokeWidth={1.8} strokeDasharray={s.dash} />
            {s.values.map((v, i) => (
              <path
                key={i}
                transform={`translate(${x(i * sampleStep)},${yT(v)})`}
                d={markerPath(s.marker, s.r)}
                fill={s.fill}
                stroke={s.mark}
                strokeWidth={s.sw}
              />
            ))}
          </g>
        ))}
      </g>

      {/* air temperature, flows, buffer tank */}
      <g clipPath="url(#plot)">
        <path d={pairLine(airDays, airTemps, yT)} fill="none" stroke="#993366" strokeWidth={2.3} />
        <path d={pairLine(totalDays, totalFlow, yF)} fill="none" stroke="#993300" strokeWidth={3.5} />
        <path d={pairLine(fdwDays, fdwFlow, yF)} fill="none" stroke="#FF00FF" strokeWidth={4} />
        <path d={pairLine(csDays, csFlow, yF)} fill="none" stroke="#00FF00" strokeWidth={4} />
        <path d={pairLine(bufferDays, bufferTemps, yT)} fill="none" stroke="#20C0F0" strokeWidth={2} />
        {bufferDays.map((d, i) => (
          <rect
            key={i}
            x={x(d) - 7}
            y={yT(bufferTemps[i]) - 1.5}
            width={14}
            height={3}
            fill="#e6f8ff"
            stroke="#20C0F0"
            strokeWidth={1}
          />
        ))}
      </g>

      {/* CS start marker */}
      <line
        x1={x(csStartDay)}
        x2={x(csStartDay)}
        y1={yT(58.6)}
        y2={yT(0)}
        stroke="#FF0000"
        strokeWidth={4}
        strokeDasharray="16,11"
      />
      <path d={callout} fill="#FFE17A" stroke="#000" strokeWidth={3.5} strokeLinejoin="miter" />
      <text
        x={(bx0 + bx1) / 2}
        y={(by0 + by1) / 2}
        textAnchor="middle"
        dominantBaseline="central"
        fontFamily={jp}
        fontSize={38}
        fill="#000"
      >
        CS系注水開始
      </text>

      {/* left axis */}
      {tempTicks.map((t) => (
        <text key={t} x={95} y={yT(t)} dy="0.36em" textAnchor="end" fontFamily={latin} fontSize={30} fill="#000">
          {t}
        </text>
      ))}
      {/* right axis */}
      {flowTicks.map((t) => (
        <text key={t} x={1637} y={yF(t)} dy="0.36em" textAnchor="start" fontFamily={latin} fontSize={30} fill="#000">
          {t}
        </text>
      ))}
      {/* x axis */}
      {dateTickDays.map((d, i) => (
        <text key={d} x={x(d)} y={1125} textAnchor="middle" fontFamily={latin} fontSize={29} fill="#000">
          {dateTickLabels[i]}
        </text>
      ))}

      <text transform="translate(33,590) rotate(-90)" textAnchor="middle" dominantBaseline="central" fontFamily={jp} fontSize={30} fill="#000">
        温度(°C)
      </text>
      <text transform="translate(1707,600) rotate(90)" textAnchor="middle" dominantBaseline="central" fontFamily={jp} fontSize={30} fill="#000">
        注水流量(m3/h)
      </text>

      {/* legend: HVH series */}
      <rect x={147} y={26.5} width={1444.5} height={229.5} fill="#fff" stroke="#404040" strokeWidth={1.6} />
      {tempSeries.map((s, i) => {
        const col = legendCols[i % 2];
        const cy = legendRowY(Math.floor(i / 2));
        return (
          <g key={s.label}>
            <line x1={col.lineX0} x2={col.lineX1} y1={cy} y2={cy} stroke={s.line} strokeWidth={2.5} strokeDasharray={s.dash ? "12,9" : undefined} />
            <path transform={`translate(${col.markX},${cy})`} d={markerPath(s.marker, s.r)} fill={s.fill} stroke={s.mark} strokeWidth={1.4} />
            <text x={col.textX} y={cy} dy="0.36em" fontFamily={latin} fontSize={31} fill="#000">
              {s.label}
            </text>
          </g>
        );
      })}

      {/* legend: air temp & flows */}
      <rect x={829.8} y={267.7} width={763} height={44} fill="#fff" stroke="#404040" strokeWidth={1.6} />
      {flowLegend.map((f, i) => (
        <g key={f.label}>
          <rect x={flowLegendX[i]} y={279} width={18} height={18} fill={f.color} />
          <text x={flowLegendX[i] + 23} y={288.5} dominantBaseline="central" fontFamily={jp} fontSize={25} fill="#000">
            {f.label}
          </text>
        </g>
      ))}
    </svg>
  );
}
